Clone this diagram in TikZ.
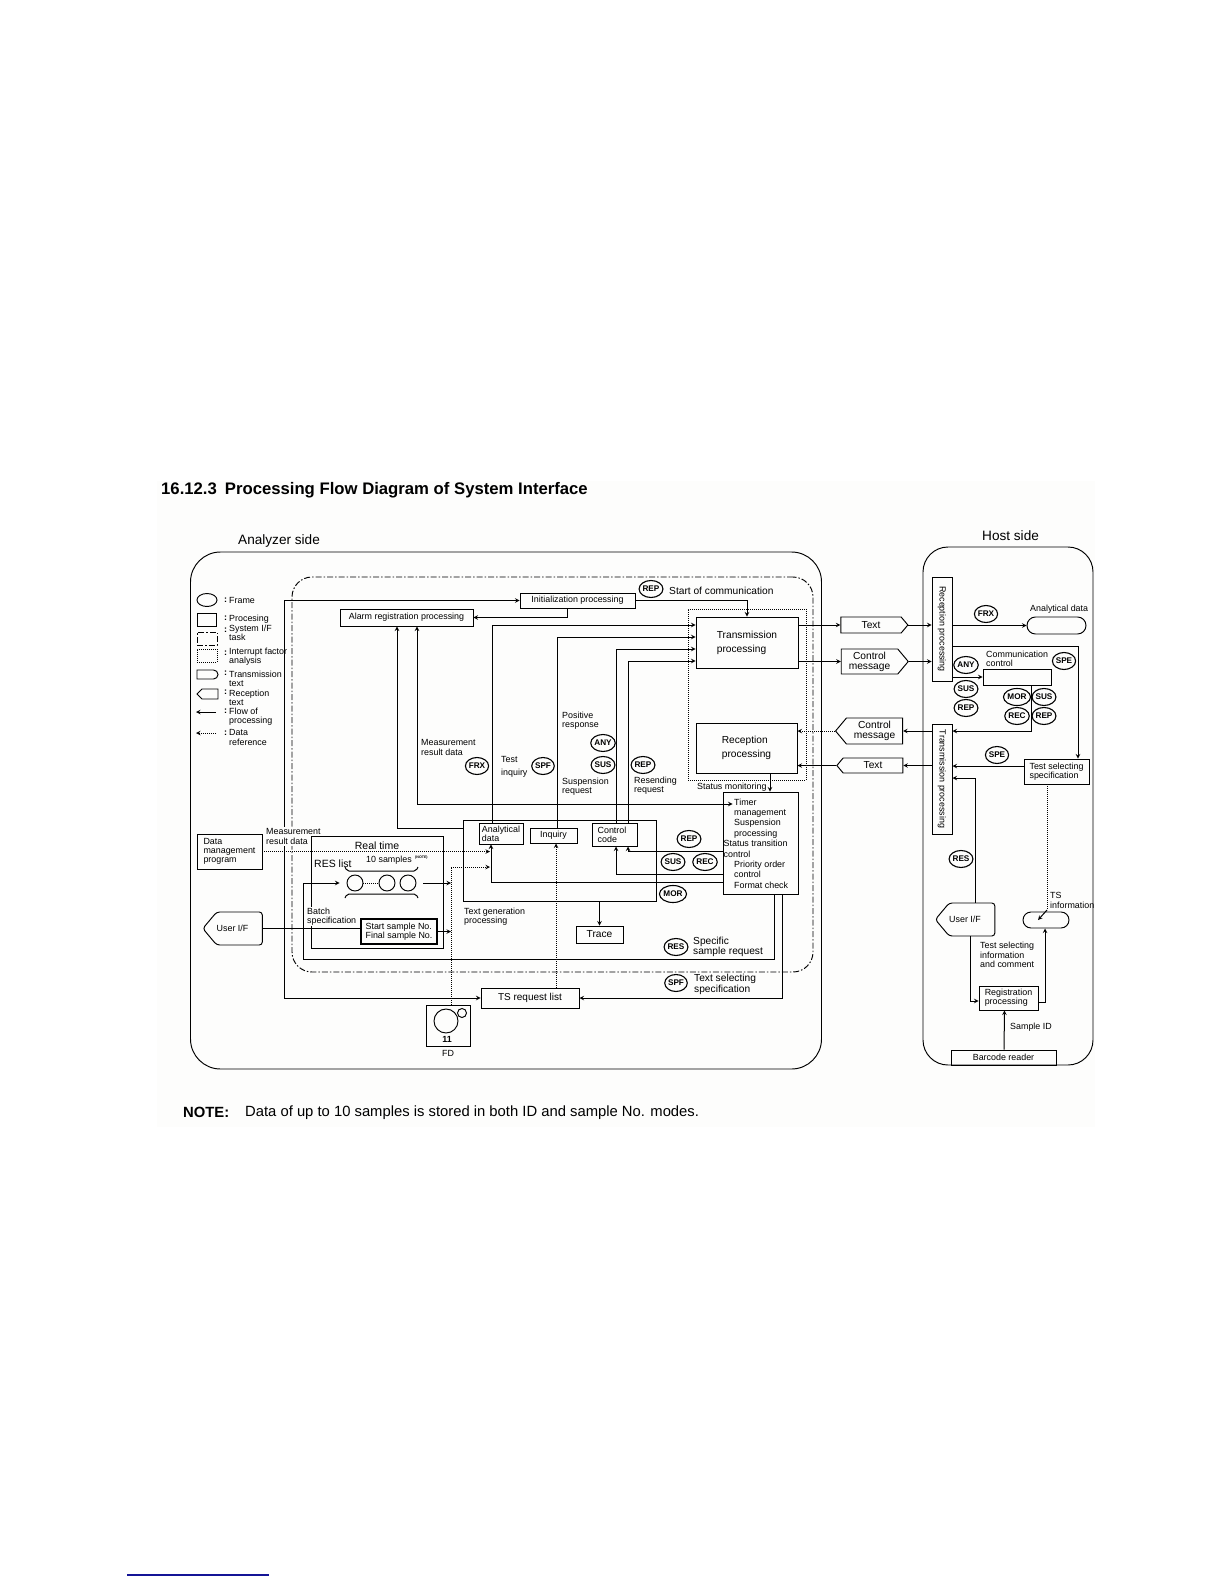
\documentclass[tikz,border=0pt]{standalone}
\usepackage{fontspec}
\setmainfont{Liberation Sans}
\usetikzlibrary{shapes.geometric, shapes.symbols, shapes.misc}

\definecolor{linkblue}{RGB}{20,20,150}
\definecolor{scanbg}{RGB}{253,253,252}

\newcommand{\fsize}[2]{\fontsize{#1}{#2}\selectfont}

\tikzset{
    lbl/.style={anchor=west, align=left, inner sep=0pt, font=\fsize{8.9}{9.2}},
    midlbl/.style={anchor=west, align=left, inner sep=0pt, font=\fsize{10.2}{10.4}},
    procbox/.style={draw, line width=0.95pt, inner sep=0pt, align=center, font=\fsize{8.9}{9.2}},
    bigbox/.style={procbox, align=left, font=\fsize{10.2}{14}},
    frame/.style={draw, line width=0.95pt, inner sep=0pt},
    txshape/.style={draw, line width=0.95pt, signal, signal to=east, signal pointer angle=100, inner sep=0pt, align=center, font=\fsize{10.2}{10.2}},
    rxshape/.style={txshape, signal to=west},
    userif/.style={txshape, signal to=west, rounded corners=3pt, font=\fsize{8.9}{9.2}},
    roundshape/.style={draw, line width=0.95pt, rounded rectangle, inner sep=0pt},
    badge/.style={draw, ellipse, line width=1.1pt, inner sep=0pt, minimum width=21pt, minimum height=17pt, font=\fsize{8.2}{9}\bfseries},
    dashdot/.style={dash pattern=on 6pt off 2pt on 1.5pt off 2pt},
    dotline/.style={dash pattern=on 1pt off 1pt},
    flow/.style={line width=1pt, >=stealth},
    ref/.style={line width=1pt, dotline, >=stealth},
    masklbl/.style={lbl, fill=scanbg, inner ysep=1pt},
}

\begin{document}
\begin{tikzpicture}[x=1pt, y=-1pt]

    \useasboundingbox (0, 0) rectangle (1224, 1584);
    \fill[scanbg] (157, 481) rectangle (1095, 1127);

    \node (title) at (161, 490.5) [anchor=west, inner sep=0pt, font=\fsize{16.7}{18}\bfseries] {16.12.3\hspace{8pt}Processing Flow Diagram of System Interface};
    \node (note-h) at (183, 1112.5) [anchor=west, inner sep=0pt, font=\fsize{14.8}{16}\bfseries] {NOTE:};
    \node (note) at (245, 1112.5) [anchor=west, inner sep=0pt, font=\fsize{14.8}{16}] {Data of up to 10 samples is stored in both ID and sample No. modes.};
    \coordinate (link-a) at (127, 1575);
    \coordinate (link-b) at (269, 1575);
    \draw[linkblue, line width=1.2pt] (link-a) -- (link-b);

    \node (analyzer-t) at (238, 541) [midlbl, font=\fsize{13.6}{14}] {Analyzer side};
    \node (host-t) at (982, 536) [midlbl, font=\fsize{13.6}{14}] {Host side};

    \node (analyzer) at (506, 810.5) [frame, rounded corners=30pt, minimum width=631, minimum height=517] {};
    \node (task) at (552.5, 774.5) [frame, dashdot, rounded corners=20pt, minimum width=521, minimum height=395] {};
    \node (intr) at (747, 694.5) [frame, dotline, minimum width=118, minimum height=171] {};
    \node (host) at (1008, 806) [frame, rounded corners=25pt, minimum width=170, minimum height=518] {};

    \node (leg-1) at (207, 600) [draw, ellipse, line width=0.95pt, minimum width=20, minimum height=13, inner sep=0pt] {};
    \node (leg-2) at (206.5, 619.5) [frame, minimum width=19, minimum height=13] {};
    \node (leg-3) at (207, 638.5) [frame, dashdot, minimum width=20, minimum height=13] {};
    \node (leg-4) at (207, 655.5) [frame, dotline, minimum width=20, minimum height=13] {};
    \node (leg-5) at (207.5, 674.5) [roundshape, rounded rectangle west arc=none, minimum width=21, minimum height=9] {};
    \node (leg-6) at (210, 694) [draw, line width=0.95pt, signal, signal to=west, inner sep=0pt, minimum width=21, minimum height=10] {};
    \coordinate (leg-7a) at (216, 712);
    \coordinate (leg-7b) at (196, 712);
    \coordinate (leg-8a) at (216, 733);
    \coordinate (leg-8b) at (196, 733);
    \draw[flow, ->] (leg-7a) -- (leg-7b);
    \draw[ref, ->] (leg-8a) -- (leg-8b);

    \node (col-1) at (224, 600) [lbl, font=\fsize{9}{9}\bfseries] {:};
    \node (col-2) at (224, 618) [lbl, font=\fsize{9}{9}\bfseries] {:};
    \node (col-3) at (224, 630) [lbl, font=\fsize{9}{9}\bfseries] {:};
    \node (col-4) at (224, 653) [lbl, font=\fsize{9}{9}\bfseries] {:};
    \node (col-5) at (224, 673) [lbl, font=\fsize{9}{9}\bfseries] {:};
    \node (col-6) at (224, 692) [lbl, font=\fsize{9}{9}\bfseries] {:};
    \node (col-7) at (224, 711) [lbl, font=\fsize{9}{9}\bfseries] {:};
    \node (col-8) at (224, 733) [lbl, font=\fsize{9}{9}\bfseries] {:};
    \node (txt-1) at (229, 600) [lbl] {Frame};
    \node (txt-2) at (229, 619) [lbl] {Procesing};
    \node (txt-3) at (229, 633) [lbl] {System I/F\\task};
    \node (txt-4) at (229, 657) [lbl] {Interrupt factor\\analysis};
    \node (txt-5) at (229, 678.5) [lbl] {Transmission\\text};
    \node (txt-6) at (229, 697.5) [lbl] {Reception\\text};
    \node (txt-7) at (229, 716.5) [lbl] {Flow of\\processing};
    \node (txt-8) at (229, 737.5) [lbl] {Data\\reference};

    \node (alarm) at (406.5, 617.5) [procbox, minimum width=133, minimum height=17] {\raisebox{-1pt}{Alarm registration processing}};
    \node (init) at (577.5, 600.5) [procbox, minimum width=115, minimum height=15] {\raisebox{-1pt}{Initialization processing}};
    \node (tx-proc) at (747, 642.5) [bigbox, minimum width=102, minimum height=51] {Transmission\\processing};
    \node (rx-proc) at (746.5, 748) [bigbox, minimum width=101, minimum height=50] {Reception\\processing};
    \node (textgen) at (559.5, 860.5) [frame, minimum width=193, minimum height=81] {};
    \node (analytical) at (501, 833.5) [procbox, align=left, minimum width=44, minimum height=21] {Analytical\\data};
    \node (inquiry) at (553.5, 835.5) [procbox, minimum width=47, minimum height=15] {Inquiry};
    \node (ctrl-code) at (614.5, 834.5) [procbox, align=left, minimum width=45, minimum height=23] {Control\hspace*{5pt}\\code};
    \node (timer) at (760.5, 843) [frame, minimum width=75, minimum height=102] {};
    \node (trace) at (599.5, 934.5) [procbox, font=\fsize{10.2}{11}, minimum width=47, minimum height=17] {\raisebox{-2pt}{Trace}};
    \node (ts-list) at (530, 998) [procbox, font=\fsize{10}{11}, minimum width=98, minimum height=20] {\raisebox{-3pt}{TS request list}};
    \node (realtime) at (377, 892) [frame, minimum width=132, minimum height=112] {};
    \node (start-no) at (399, 931.5) [procbox, align=left, line width=1.2pt, minimum width=76, minimum height=25] {Start sample No.\\Final sample No.};
    \node (data-prog) at (229.5, 851.5) [procbox, minimum width=65, minimum height=35, align=left] {Data\hspace{30pt}\\management\\program};
    \node (user-a) at (239.5, 928.5) [userif, minimum width=59, minimum height=33] {User I/F\hspace*{14pt}};
    \node (fd) at (448, 1025.5) [frame, minimum width=44, minimum height=41] {};
    \node (fd-big) at (446, 1021) [draw, circle, line width=0.95pt, minimum size=24, inner sep=0pt] {};
    \node (fd-small) at (462, 1013) [draw, circle, line width=0.95pt, minimum size=9, inner sep=0pt] {};
    \node (fd-num) at (447, 1039) [inner sep=0pt, font=\fsize{8.9}{9}\bfseries] {11};
    \node (fd-t) at (448, 1053) [inner sep=0pt, font=\fsize{8.9}{9}] {FD};

    \node (res-1) at (355, 883) [draw, circle, line width=0.95pt, minimum size=16, inner sep=0pt] {};
    \node (res-2) at (387, 883) [draw, circle, line width=0.95pt, minimum size=16, inner sep=0pt] {};
    \node (res-3) at (408, 883) [draw, circle, line width=0.95pt, minimum size=16, inner sep=0pt] {};
    \draw[ref] (res-1) -- (res-2);
    \draw[line width=1pt, rounded corners=2pt] (345, 867) -- (347, 871) -- (416, 871) -- (418, 867);
    \draw[line width=1pt, rounded corners=2pt] (345, 898) -- (347, 894) -- (416, 894) -- (418, 898);

    \node (text-out) at (871, 625) [txshape, minimum width=67, minimum height=16] {Text};
    \node (ctrl-out) at (869.5, 661.5) [txshape, minimum width=67, minimum height=25] {Control\\message};
    \node (ctrl-in) at (874.5, 731) [rxshape, minimum width=67, minimum height=26] {Control\\message};
    \node (text-in) at (873, 765.5) [rxshape, minimum width=66, minimum height=15] {Text};

    \node (host-rx) at (942, 629) [procbox, rotate=-90, minimum width=104, minimum height=20] {Reception processing};
    \node (host-tx) at (942, 779) [procbox, rotate=-90, minimum width=110, minimum height=20] {Transmission processing};
    \node (an-data) at (1056.5, 625.5) [roundshape, minimum width=59, minimum height=17] {};
    \node (comm) at (1017, 677) [frame, minimum width=68, minimum height=16] {};
    \node (test-sel) at (1056.5, 771.5) [procbox, align=left, minimum width=65, minimum height=25] {Test selecting\\specification};
    \node (user-h) at (972, 919.5) [userif, minimum width=58, minimum height=33] {User I/F\hspace*{14pt}};
    \node (ts-info) at (1046, 920) [roundshape, minimum width=46, minimum height=16] {};
    \node (reg) at (1008.5, 998) [procbox, align=left, minimum width=59, minimum height=24] {Registration\\processing};
    \node (barcode) at (1003.5, 1057.5) [procbox, minimum width=105, minimum height=15] {Barcode reader};

    \node (b-rep1) at (651, 589) [badge] {REP};
    \node (b-frx1) at (477, 766) [badge] {FRX};
    \node (b-spf1) at (543, 766) [badge] {SPF};
    \node (b-any1) at (603, 743) [badge] {ANY};
    \node (b-sus1) at (603, 765) [badge] {SUS};
    \node (b-rep2) at (643, 765) [badge] {REP};
    \node (b-rep3) at (689, 839) [badge] {REP};
    \node (b-sus2) at (673, 862) [badge] {SUS};
    \node (b-rec1) at (705, 862) [badge] {REC};
    \node (b-mor1) at (673, 894) [badge] {MOR};
    \node (b-res1) at (676, 947) [badge] {RES};
    \node (b-spf2) at (676, 983) [badge] {SPF};
    \node (b-frx2) at (986, 614) [badge] {FRX};
    \node (b-any2) at (966, 665) [badge] {ANY};
    \node (b-sus3) at (966, 689) [badge] {SUS};
    \node (b-rep4) at (966, 708) [badge] {REP};
    \node (b-mor2) at (1017, 697) [badge] {MOR};
    \node (b-rec2) at (1017, 716) [badge] {REC};
    \node (b-sus4) at (1044, 697) [badge] {SUS};
    \node (b-rep5) at (1044, 716) [badge] {REP};
    \node (b-spe1) at (1064, 661) [badge] {SPE};
    \node (b-spe2) at (997, 755) [badge] {SPE};
    \node (b-res2) at (961, 859) [badge] {RES};

    \node (l-start) at (669, 591) [midlbl] {Start of communication};
    \node (l-meas1) at (421, 747.5) [lbl] {Measurement\\result data};
    \node (l-test) at (501, 766.5) [lbl, font=\fsize{8.9}{13}] {Test\\inquiry};
    \node (l-pos) at (562, 721) [lbl] {Positive\\response};
    \node (l-susp) at (562, 786.5) [lbl] {Suspension\\request};
    \node (l-resend) at (634, 785.5) [lbl] {Resending\\request};
    \node (l-status) at (697, 787) [lbl] {Status monitoring};
    \node (l-timer) at (723.5, 843.5) [lbl, font=\fsize{8.9}{10.4}] {\hspace*{10.5pt}Timer\\\hspace*{10.5pt}management\\\hspace*{10.5pt}Suspension\\\hspace*{10.5pt}processing\\Status transition\\control\\\hspace*{10.5pt}Priority order\\\hspace*{10.5pt}control\\\hspace*{10.5pt}Format check};
    \node (l-real) at (377, 846) [font=\fsize{10.5}{11}, inner sep=0pt] {Real time};
    \node (l-reslist) at (314, 864) [lbl, font=\fsize{10.5}{11}] {RES list};
    \node (l-ten) at (366, 860) [lbl] {10 samples};
    \node (l-note) at (415, 858) [lbl, font=\fsize{3.6}{4}\bfseries] {(NOTE)};
    \node (l-gen) at (464, 916.5) [lbl] {Text generation\\processing};
    \node (l-spec) at (693, 947) [midlbl] {Specific\\sample request};
    \node (l-sel) at (694, 984.5) [midlbl] {Text selecting\\specification};
    \node (l-andata) at (1030, 609) [lbl] {Analytical data};
    \node (l-comm) at (986, 658.5) [lbl] {Communication\\control};
    \node (l-ts) at (1050, 900.5) [lbl] {TS\\information};
    \node (l-tsel) at (980, 955) [lbl] {Test selecting\\information\\and comment};
    \node (l-id) at (1010, 1027) [lbl] {Sample ID};

    \coordinate (trunk-top) at (284, 600.5);
    \coordinate (trunk-bot) at (284, 998);
    \coordinate (res-low) at (303, 959.5);
    \coordinate (res-out) at (451, 883);
    \coordinate (an-in1) at (490, 851.5);
    \coordinate (an-in2) at (490, 867);
    \coordinate (ts-bend) at (1047, 910);

    \draw[flow, <->] (init.west) -- (trunk-top) -- (trunk-bot) -- (ts-list.west);
    \draw[flow, line width=1.4pt] (user-a.east) -- ([yshift=3pt]start-no.west);
    \draw[flow, ->] (init.east) -| (tx-proc.north);
    \draw[flow, ->] ([xshift=-10.5pt]init.south) |- (alarm.east);
    \draw[flow, ->] ([yshift=32.5pt]textgen.west) -| ([xshift=-9.5pt]alarm.south);
    \draw[flow, <->] ([xshift=10pt, yshift=39pt]timer.west) -| ([xshift=10.5pt]alarm.south);

    \draw[flow, ->] ([xshift=-9pt]analytical.north) |- ([yshift=17.5pt]tx-proc.west);
    \draw[flow, ->] ([xshift=3.5pt]inquiry.north) |- ([yshift=5.5pt]tx-proc.west);
    \draw[flow, ->] ([xshift=1.5pt]ctrl-code.north) |- ([yshift=-6.5pt]tx-proc.west);
    \draw[flow, ->] ([xshift=13.5pt]ctrl-code.north) |- ([yshift=-18.5pt]tx-proc.west);

    \draw[flow, ->] ([yshift=-8pt]timer.west) -| ([xshift=13.5pt]ctrl-code.south);
    \draw[flow, ->] ([yshift=-31pt]timer.west) -| ([xshift=1.5pt]ctrl-code.south);
    \draw[flow, ->] ([yshift=-39pt]timer.west) -| ([xshift=-10pt]analytical.south);
    \draw[flow, ->] ([xshift=13.5pt]timer.south) |- (res-low) |- ([xshift=-7pt]res-1.west);
    \draw[flow, ->] ([xshift=21.5pt]timer.south) |- (ts-list.east);
    \draw[flow, ->] ([xshift=23.5pt]rx-proc.south) -- ([xshift=9.5pt]timer.north);
    \draw[flow, ->] (trace.north |- textgen.south) -- (trace.north);

    \draw[ref, ->] (data-prog.east) -- (an-in1);
    \draw[ref, ->] ([xshift=3pt]fd.north) |- (an-in2);
    \draw[ref, ->] ([xshift=26pt]ts-list.north) -- ([xshift=2.5pt]inquiry.south);
    \draw[flow, ->] ([xshift=7pt]res-3.east) -- (res-out);
    \draw[flow, ->] (start-no.east) -- (start-no.east -| res-out);

    \draw[flow, ->] ([yshift=17.5pt]tx-proc.east) -- (text-out.west);
    \draw[flow, ->] ([yshift=-19pt]tx-proc.east) -- (ctrl-out.west);
    \draw[flow, ->] (text-out.east) -- (text-out.east -| host-rx.south);
    \draw[flow, ->] (ctrl-out.east) -- (ctrl-out.east -| host-rx.south);
    \draw[flow, ->] ([yshift=48pt]host-tx.south) -- (ctrl-in.east);
    \draw[flow, ->] ([yshift=13.5pt]host-tx.south) -- (text-in.east);
    \draw[ref, ->] (ctrl-in.west) -- (ctrl-in.west -| rx-proc.east);
    \draw[flow, ->] (text-in.west) -- (text-in.west -| rx-proc.east);

    \draw[flow, ->] (an-data.west -| host-rx.north) -- (an-data.west);
    \draw[flow, ->] ([yshift=-17pt]host-rx.north) -| ([xshift=21.5pt]test-sel.north);
    \draw[flow, ->] (comm.west -| host-rx.north) -- (comm.west);
    \draw[flow, ->] ([xshift=14pt]comm.south) |- ([yshift=48pt]host-tx.north);
    \draw[flow, ->] ([yshift=5.5pt]test-sel.west) -- ([yshift=13pt]host-tx.north);
    \draw[flow, ->] ([xshift=3pt]user-h.north) |- ([yshift=1pt]host-tx.north);
    \draw[flow, ->] ([xshift=-2pt]user-h.south) |- ([yshift=-3pt]reg.west);
    \draw[flow, ->] ([yshift=-4pt]reg.east) -| ([xshift=-1pt]ts-info.south);
    \draw[flow, ->] ([xshift=0.5pt]barcode.north) -- ([xshift=-4pt]reg.south);
    \draw[ref] ([xshift=-9.5pt]test-sel.south) -- (ts-bend);
    \draw[flow, ->] (ts-bend) -- ([xshift=-8pt]ts-info.center);

    \fill[scanbg] (280, 827) rectangle (296, 846);
    \node (l-meas2) at (266, 836.5) [lbl] {Measurement\\result data};
    \node (l-batch) at (307, 916.5) [masklbl] {Batch\\specification};

\end{tikzpicture}
\end{document}
